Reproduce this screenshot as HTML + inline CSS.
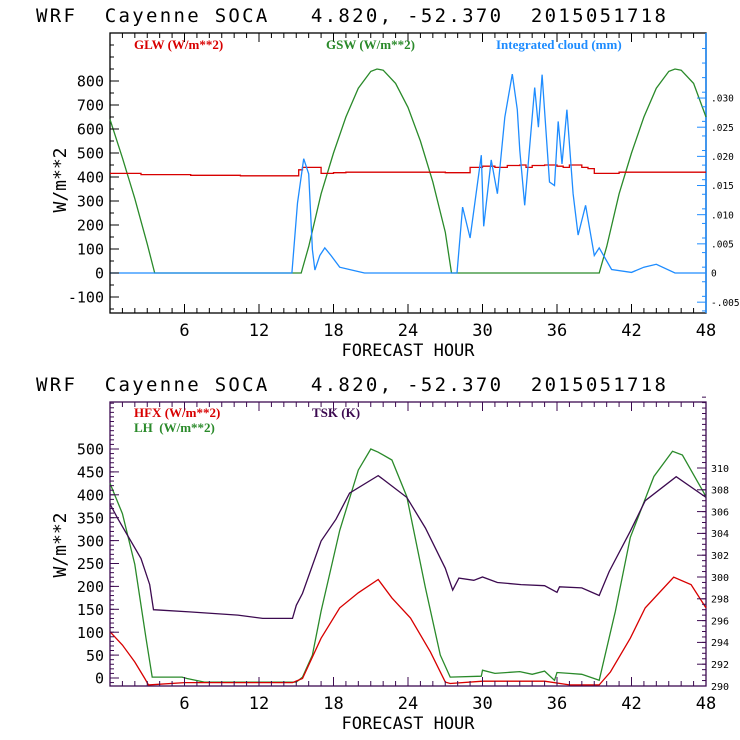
<!DOCTYPE html>
<html><head><meta charset="utf-8"><style>
html,body{margin:0;padding:0;background:#fff;}
svg{display:block;font-family:"DejaVu Sans Mono","Liberation Mono",monospace;}
.ser{font-family:"Liberation Serif",serif;font-weight:bold;}
text{white-space:pre;}
</style></head><body>
<svg id="c" width="740" height="740" viewBox="0 0 740 740"></svg>
<script>
// ---- data: top panel ----
const gswHours=[0,1,2,3,3.6,15.4,16,17,18,19,20,21,21.5,22,23,24,25,26,27,27.5,39.4,40,41,42,43,44,45,45.5,46,47,48];
const gswVals=[640,480,310,120,0,0,110,330,500,650,770,840,850,845,790,690,550,380,170,0,0,110,330,500,650,770,840,850,845,790,650];
const glwHours=[0,2,2.5,6,6.5,10,10.5,15,15.2,15.5,16.5,17,18,19,26,27,28.5,29,30,31,32,33,33.5,34,35,36,36.5,37,38,38.5,39,40,41,48];
const glwVals=[415,415,410,410,407,407,405,405,430,440,440,415,418,420,420,418,418,440,445,440,448,450,440,448,450,445,440,450,440,435,415,415,420,420];
const cloudHours=[0,14.65,15.1,15.6,16.0,16.3,16.5,16.9,17.3,17.8,18.5,19.5,20.5,27.95,28.4,29.0,29.9,30.1,30.7,31.2,31.8,32.4,32.8,33.0,33.4,34.2,34.5,34.8,35.4,35.8,36.1,36.4,36.8,37.3,37.7,38.3,39.0,39.4,40.4,42.0,43.0,44.0,45.5,48];
const cloudVals=[0,0,0.012,0.0196,0.017,0.004,0.0005,0.003,0.0043,0.003,0.001,0.0005,0,0,0.0113,0.006,0.0202,0.008,0.0194,0.0136,0.0267,0.0341,0.028,0.021,0.0116,0.0318,0.025,0.034,0.0156,0.015,0.026,0.0187,0.028,0.0136,0.0065,0.0116,0.003,0.0043,0.0006,0.0001,0.001,0.0015,0,0];
// ---- data: bottom panel ----
const tskHours=[0,0.6,2.5,3.2,3.5,6.4,10.3,12.3,14.7,15,15.5,17,18.2,19.3,21.6,23.9,25.4,27,27.6,28.1,29.3,30,31.2,33.1,35,36,36.2,38,39.4,40.2,41.9,43.1,45.6,48];
const tskVals=[306.7,305.4,301.7,299.3,297.0,296.8,296.5,296.2,296.2,297.4,298.5,303.3,305.3,307.7,309.3,307.3,304.5,300.8,298.8,299.9,299.7,300,299.5,299.3,299.2,298.6,299.1,299.0,298.3,300.5,304.2,307.0,309.2,307.3];
const hfxHours=[0,1,2,2.8,3.1,6,10,14.7,15.5,17,18.5,20,21.6,22.7,24.2,25.8,27,27.4,30,35,37,39.4,40.3,41.9,43.1,45.4,46.8,48];
const hfxVals=[101,72,35,-1,-15,-10,-10,-10,-1,87,153,186,215,175,131,57,-9,-12,-7,-7,-15,-15,13,87,153,220,204,153];
const lhHours=[0,1,2,2.9,3.4,5.8,6.2,7.6,15,15.5,16.3,17,18.5,20,21,21.6,22.7,23.9,25.4,26.6,27.4,29.9,30,31,32,33,34,35,35.8,36,37,38,39.4,40.7,41.9,43.8,45.3,46.1,48];
const lhVals=[425,359,248,87,2,2,-1,-9,-9,2,50,146,322,454,500,493,476,396,197,50,2,4,17,10,12,14,8,15,-5,12,10,8,-5,146,307,440,495,487,396];
// ticks
const xTicks=[6,12,18,24,30,36,42,48];
const topLeftTicks=[-100,0,100,200,300,400,500,600,700,800];
const topRightTicks=[-0.005,0,0.005,0.010,0.015,0.020,0.025,0.030];
const topRightLabels=["-.005","0",".005",".010",".015",".020",".025",".030"];
const botLeftTicks=[0,50,100,150,200,250,300,350,400,450,500];
const botRightTicks=[290,292,294,296,298,300,302,304,306,308,310];

const NS="http://www.w3.org/2000/svg";
const svg=document.getElementById('c');
function el(tag,attrs,parent,text){const e=document.createElementNS(NS,tag);for(const k in attrs)e.setAttribute(k,attrs[k]);if(text!==undefined)e.textContent=text;(parent||svg).appendChild(e);return e;}
const X0=110,X1=706;
const xs=h=>X0+(X1-X0)*h/48;
const T={top:33,bot:313};
const yTop=v=>273-v*0.24;
const cloudToW=729/0.03;
const yCloud=v=>yTop(v*cloudToW);
const B={top:402,bot:686};
const yBot=v=>678-v*0.458;
const yK=v=>686-(v-290)*(686-468)/20;

function poly(hs,vs,fy,color,name,step,g){
  let d='';
  for(let i=0;i<hs.length;i++){
    const x=xs(hs[i]).toFixed(1),y=fy(vs[i]).toFixed(1);
    if(i===0)d+='M'+x+','+y;
    else if(step){d+='H'+x+'V'+y;}
    else d+='L'+x+','+y;
  }
  const p=el('path',{d:d,fill:'none',stroke:color,'stroke-width':1.3},g);
  
  
}
function title(y,name){
  const t=el('text',{x:36,y:y,'font-size':19,fill:'#000',textLength:630,lengthAdjust:'spacing'},svg,"WRF  Cayenne SOCA   4.820, -52.370  2015051718");
  
}
function xAxis(P,frameColor,name){
  const g=el('g',{},svg);
  for(let h=1;h<48;h++){
    const L=h%6===0?9:5;
    el('line',{x1:xs(h),x2:xs(h),y1:P.bot,y2:P.bot-L,stroke:frameColor,'stroke-width':1},g);
    el('line',{x1:xs(h),x2:xs(h),y1:P.top,y2:P.top+L,stroke:frameColor,'stroke-width':1},g);
  }
  xTicks.forEach(h=>el('text',{x:xs(h),y:P.bot+23,'font-size':17,'text-anchor':'middle',fill:'#000'},g,String(h)));
  el('text',{x:408,y:P.bot+43,'font-size':17,'text-anchor':'middle',fill:'#000'},g,"FORECAST HOUR");
}
function yTicks(vals,fy,x,dir,minorStep,lo,hi,color,g,labels,fs,labX,anchor){
  for(let v=lo;v<=hi+1e-9;v+=minorStep){const y=fy(v);el('line',{x1:x,x2:x+dir*4,y1:y,y2:y,stroke:color},g);}
  vals.forEach((v,i)=>{const y=fy(v);el('line',{x1:x,x2:x+dir*9,y1:y,y2:y,stroke:color},g);
    el('text',{x:labX,y:y+fs*0.38,'font-size':fs,'text-anchor':anchor,fill:'#000'},g,labels?labels[i]:String(v));});
}

// ===== top panel =====
title(22,'top-title');
const gt=el('g',{});
el('rect',{x:X0,y:T.top,width:X1-X0,height:T.bot-T.top,fill:'none',stroke:'#000','stroke-width':1.3},gt);
el('line',{x1:X1,x2:X1,y1:T.top,y2:T.bot,stroke:'#1e8cff','stroke-width':1.5},gt);
xAxis(T,'#000','top-x-axis');
const gly=el('g',{});
yTicks(topLeftTicks,yTop,X0,1,50,-150,1000,'#000',gly,null,15,104,'end');
const gry=el('g',{});
yTicks(topRightTicks,yCloud,X1,-1,0.0025,-0.0065,0.04,'#1e8cff',gry,topRightLabels,9.5,711,'start');
const yt1=el('text',{x:0,y:0,'font-size':18,'text-anchor':'middle',transform:'translate(66,180) rotate(-90)',fill:'#000'},svg,"W/m**2");

poly(gswHours,gswVals,yTop,'#2a8a2a','gsw-line',false,gt);
poly(glwHours,glwVals,yTop,'#d80000','glw-line',true,gt);
poly(cloudHours,cloudVals,yCloud,'#1e8cff','cloud-line',false,gt);
let l;
l=el('text',{x:134,y:49,'font-size':13,fill:'#d80000',class:'ser'},svg,"GLW (W/m**2)");
l=el('text',{x:326,y:49,'font-size':13,fill:'#2a8a2a',class:'ser'},svg,"GSW (W/m**2)");
l=el('text',{x:496,y:49,'font-size':13,fill:'#1e8cff',class:'ser'},svg,"Integrated cloud (mm)");

// ===== bottom panel =====
title(391,'bottom-title');
const PC='#3c0a50';
const gb=el('g',{});
el('rect',{x:X0,y:B.top,width:X1-X0,height:B.bot-B.top,fill:'none',stroke:PC,'stroke-width':1.3},gb);
xAxis(B,PC,'bottom-x-axis');
const bly=el('g',{});
yTicks(botLeftTicks,yBot,X0,1,10,-10,600,PC,bly,null,15,104,'end');
const bry=el('g',{});
yTicks(botRightTicks,yK,X1,-1,0.5,290,316.5,PC,bry,null,10,711,'start');
const yt2=el('text',{x:0,y:0,'font-size':18,'text-anchor':'middle',transform:'translate(66,545) rotate(-90)',fill:'#000'},svg,"W/m**2");

poly(lhHours,lhVals,yBot,'#2a8a2a','lh-line',false,gb);
poly(hfxHours,hfxVals,yBot,'#d80000','hfx-line',false,gb);
poly(tskHours,tskVals,yK,PC,'tsk-line',false,gb);
l=el('text',{x:134,y:417,'font-size':13,fill:'#d80000',class:'ser'},svg,"HFX (W/m**2)");
l=el('text',{x:134,y:432,'font-size':13,fill:'#2a8a2a',class:'ser'},svg,"LH  (W/m**2)");
l=el('text',{x:312,y:417,'font-size':13,fill:PC,class:'ser'},svg,"TSK (K)");
</script>
</body></html>
